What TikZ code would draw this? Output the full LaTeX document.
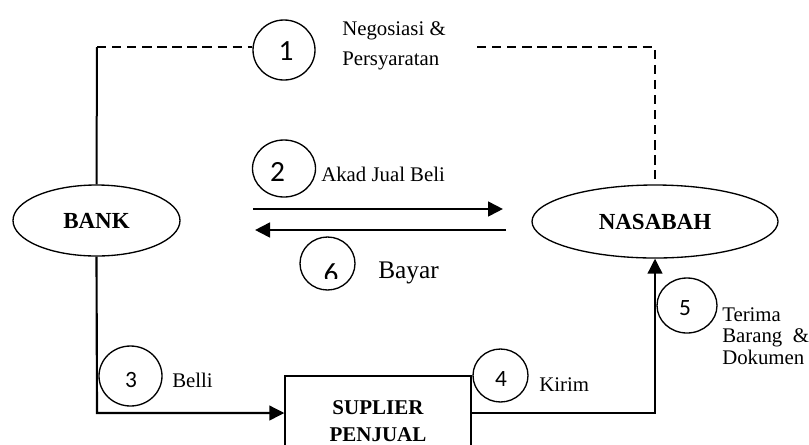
\documentclass[tikz,border=0pt]{standalone}
\usepackage{fontspec}
\setmainfont{Liberation Serif}
\newfontfamily\digitfont{Carlito}
\usetikzlibrary{arrows.meta,shapes.geometric}
\begin{document}
\begin{tikzpicture}[x=0.75pt,y=-0.75pt,
  ent/.style={ellipse,draw,line width=1pt,inner sep=0pt,font=\fontsize{17.25}{20}\selectfont\bfseries},
  num/.style={ellipse,draw,line width=1pt,inner sep=0pt},
  bigdig/.style={inner sep=0pt,font=\fontsize{22}{25}\selectfont\digitfont},
  smalldig/.style={inner sep=0pt,font=\fontsize{17.5}{20}\selectfont\digitfont},
  lbl/.style={anchor=base west,inner sep=0pt,font=\fontsize{15.6}{19}\selectfont},
  tip/.style={-{Triangle[length=11.25pt,width=11pt]}},
  conn/.style={line width=1.6pt,tip},
  flow/.style={line width=2pt,tip},
  dsh/.style={line width=1.3pt,dash pattern=on 7pt off 4.3pt},
]
\clip (0,0) rectangle (809,444);
\useasboundingbox (0,0) rectangle (809,444);
\fill[white] (0,0) rectangle (809,444);

% main entities
\node[ent,minimum width=125.25pt,minimum height=53.25pt] (BANK) at (96.5,220.5) {BANK};
\node[ent,minimum width=184.5pt,minimum height=54.75pt] (NASABAH) at (655,221.5) {NASABAH};
\node[draw,line width=1pt,inner sep=0pt,minimum width=139.5pt,minimum height=67.5pt,
      align=center,font=\fontsize{15.75}{20.25}\selectfont\bfseries] (SUP) at (378,421) {SUPLIER\\PENJUAL};

% numbered circles
\node[num,minimum width=46.5pt,minimum height=45pt] (c1) at (284,50) {};
\node[bigdig] (d1) at (286,51) {1};
\node[num,minimum width=47.25pt,minimum height=42.75pt] (c2) at (284,168.5) {};
\node[bigdig,anchor=base] (d2) at (277.5,181) {2};
\node[num,minimum width=47.25pt,minimum height=45pt] (c3) at (130.5,376) {};
\node[smalldig] (d3) at (131,380) {3};
\node[num,minimum width=41.25pt,minimum height=39.75pt] (c4) at (500.5,375.5) {};
\node[smalldig] (d4) at (501,379) {4};
\node[num,minimum width=45pt,minimum height=41.25pt] (c5) at (687,305.5) {};
\node[smalldig] (d5) at (685,308) {5};
\node[num,minimum width=41.25pt,minimum height=39.75pt] (c6) at (327.5,263.5) {};
\begin{scope}
  \clip (300,230) rectangle (360,278);
  \node[bigdig,anchor=base] (d6) at (331,283) {6};
\end{scope}

% negotiation (dashed) link
\coordinate (k1) at (97,47);
\draw[line width=1.5pt] (BANK.north) -- (k1);
\draw[dsh] (k1) -- (k1 -| c1.west);
\draw[dsh] (477,47) coordinate (k2) -| ([yshift=3.75pt]NASABAH.north);
\node[fill=white,inner sep=0pt,minimum width=117.75pt,minimum height=76.5pt] (nbox) at (398.5,46) {};
\node[lbl] (n1) at (342,35) {Negosiasi \&};
\node[lbl] (n2) at (342,65) {Persyaratan};

% contract / payment
\coordinate (a2s) at (253,209);
\coordinate (a2e) at (503,209);
\draw[flow] (a2s) -- (a2e);
\node[lbl] (t2) at (321,181) {Akad Jual Beli};
\coordinate (a6s) at (506,230);
\coordinate (a6e) at (255,230);
\draw[flow] (a6s) -- (a6e);
\node[lbl,font=\fontsize{19}{22}\selectfont] (t6) at (378,278) {Bayar};

% purchase and delivery
\coordinate (b3) at (97,413);
\draw[conn] (BANK.south) -- (b3) -- (b3 -| SUP.west);
\node[lbl] (t3) at (172,387) {Belli};
\draw[conn] (b3 -| SUP.east) -| (NASABAH.south);
\node[lbl] (t4) at (539,391) {Kirim};
\node[lbl] (t5a) at (722,321) {Terima};
\node[lbl] (t5b) at (722,342) {Barang\ \ \&};
\node[lbl] (t5c) at (722,364) {Dokumen};
\end{tikzpicture}
\end{document}
